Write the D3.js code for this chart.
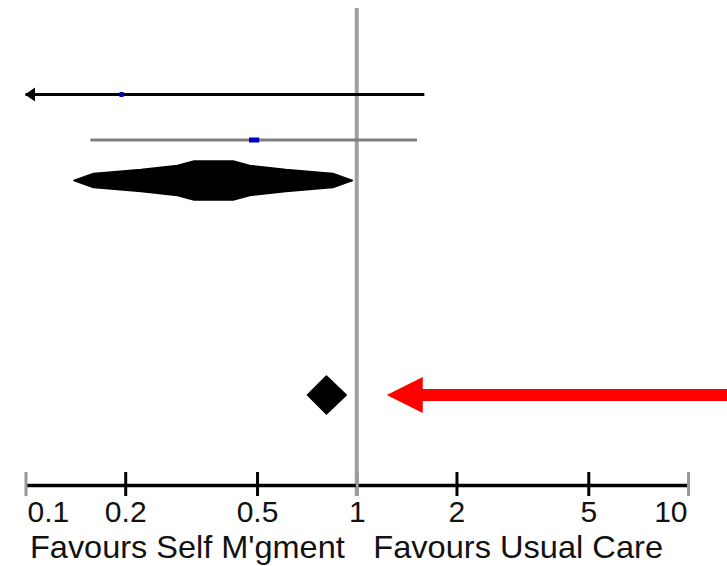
<!DOCTYPE html>
<meta charset="utf-8">
<title>Forest plot</title>
<style>
body {
  margin: 0px;
  background: white;
}
svg {
  display: block;
  background: white;
}
text {
  font-family: "Liberation Sans", Arial, sans-serif;
  fill: #111;
}
</style>
<body>
<div id="chart"></div>
</body>
<script src="https://cdn.jsdelivr.net/npm/d3@7"></script>
<script>

// Individual trials (odds ratio, 95% CI, weight %)
var trialIds = ["Trial 1", "Trial 2"];
var trialEst = [0.195, 0.49];
var trialLow = [0.05, 0.157];
var trialHigh = [1.6, 1.52];
var trialWeight = [14, 86];

// Pooled estimates
var pooledIds = ["Pooled", "Overall"];
var pooledEst = [0.37, 0.81];
var pooledLow = [0.14, 0.71];
var pooledHigh = [0.97, 0.93];

// Axis
var tickValues = [0.1, 0.2, 0.5, 1, 2, 5, 10];
var tickLabels = ["0.1", "0.2", "0.5", "1", "2", "5", "10"];
var favourLabels = ["Favours Self M'gment", "Favours Usual Care"];

var width = 727,
    height = 566;

var svg = d3.select("#chart").append("svg")
    .attr("width", width)
    .attr("height", height);

// Scales
var x = d3.scaleLog()
    .domain([0.1, 10])
    .range([25.5, 688]);

var y = d3.scaleOrdinal()
    .domain(trialIds.concat(pooledIds))
    .range([94.5, 140, 180.5, 395]);

var markerSize = d3.scaleSqrt()
    .domain([0, 100])
    .range([0, 11]);

var lineColours = ["#000", "#808080"];

// Line of no effect
svg.append("line")
    .attr("x1", x(1))
    .attr("x2", x(1))
    .attr("y1", 8)
    .attr("y2", 496)
    .style("stroke", "#a0a0a0")
    .style("stroke-width", 4);

// Trials: CI lines, clipped arrows, weighted boxes
var trials = trialIds.map(function(id, i) {
  return {id: id, est: trialEst[i], low: trialLow[i], high: trialHigh[i], w: trialWeight[i], i: i};
});

var trow = svg.selectAll(".trial")
    .data(trials)
    .enter().append("g")
    .attr("class", "trial");

trow.append("line")
    .attr("x1", function(d){ return x(Math.max(d.low, 0.1)); })
    .attr("x2", function(d){ return x(Math.min(d.high, 10)); })
    .attr("y1", function(d){ return y(d.id); })
    .attr("y2", function(d){ return y(d.id); })
    .style("stroke", function(d){ return lineColours[d.i]; })
    .style("stroke-width", 3);

trow.filter(function(d){ return d.low < 0.1; })
  .append("path")
    .attr("d", function(d) {
      var tx = x(0.1) - 0.5, cy = y(d.id);
      return "M" + tx + "," + cy + "L" + (tx + 10) + "," + (cy - 7) + "L" + (tx + 10) + "," + (cy + 7) + "Z";
    })
    .style("fill", "#000");

trow.append("rect")
    .attr("x", function(d){ return x(d.est) - markerSize(d.w) / 2; })
    .attr("y", function(d){ return y(d.id) - 2.5; })
    .attr("width", function(d){ return markerSize(d.w); })
    .attr("height", 5)
    .style("fill", "#0000c8");

// Pooled diamonds
var pooled = pooledIds.map(function(id, i) {
  return {id: id, est: pooledEst[i], low: pooledLow[i], high: pooledHigh[i], i: i};
});

// bulging outline of the first (subtotal) diamond: [width fraction, height fraction]
var profile = [[1, 0], [0.86, 0.36], [0.52, 0.56], [0.26, 0.77], [0.14, 1]];

var diamond = function(d) {
  var cx = x(d.est), cy = y(d.id),
      wl = cx - x(d.low), wr = x(d.high) - cx;
  if (d.i === 0) {
    var h = 19.5, pts = [];
    profile.forEach(function(p){ pts.push([cx - wl * p[0], cy - h * p[1]]); });
    profile.slice().reverse().forEach(function(p){ pts.push([cx + wr * p[0], cy - h * p[1]]); });
    profile.slice(1).forEach(function(p){ pts.push([cx + wr * p[0], cy + h * p[1]]); });
    profile.slice(1).reverse().forEach(function(p){ pts.push([cx - wl * p[0], cy + h * p[1]]); });
    return "M" + pts.join("L") + "Z";
  }
  var h2 = 19;
  return "M" + [[cx - wl, cy], [cx, cy - h2], [cx + wr, cy], [cx, cy + h2]].join("L") + "Z";
};

svg.selectAll(".pooled")
    .data(pooled)
    .enter().append("path")
    .attr("class", "pooled")
    .attr("d", diamond)
    .style("fill", "#000")
    .style("stroke", "#000")
    .style("stroke-width", 1.5)
    .style("stroke-linejoin", "round");

// Red pointer arrow at the overall estimate
var ay = y("Overall"), tip = x(1) + 30;
svg.append("path")
    .attr("d", "M" + tip + "," + ay +
               "L" + (tip + 36) + "," + (ay - 18) +
               "L" + (tip + 36) + "," + (ay - 6) +
               "L" + width + "," + (ay - 6) +
               "L" + width + "," + (ay + 6) +
               "L" + (tip + 36) + "," + (ay + 6) +
               "L" + (tip + 36) + "," + (ay + 18) + "Z")
    .style("fill", "#ff0000");

// Axis
var axis = d3.axisBottom(x)
    .tickValues(tickValues)
    .tickFormat(function(d, i){ return tickLabels[i]; })
    .tickSizeOuter(0);

var gx = svg.append("g")
    .attr("transform", "translate(0,485)")
    .call(axis);

gx.attr("font-size", null).attr("font-family", null);

gx.select(".domain")
    .style("stroke", "#000")
    .style("stroke-width", 3.5);

gx.selectAll(".tick line")
    .attr("y1", -13)
    .attr("y2", 11)
    .style("stroke", function(d){ return (d === 0.1 || d === 1 || d === 10) ? "#999" : "#000"; })
    .style("stroke-width", 3);

gx.selectAll(".tick text")
    .attr("y", 37)
    .attr("dy", null)
    .style("font-size", "30px")
    .style("fill", "#111")
    .attr("text-anchor", function(d){ return d === 0.1 ? "start" : (d === 10 ? "end" : "middle"); })
    .attr("x", function(d){ return d === 0.1 ? 1.5 : (d === 10 ? -1 : 0); });

// Favours labels
var fx = [x(0.1) + 4.5, x(1) + 16.5],
    fw = [x(1) - 12 - fx[0], x(10) - 25 - fx[1]];

svg.selectAll(".favour")
    .data(favourLabels)
    .enter().append("text")
    .attr("class", "favour")
    .attr("x", function(d, i){ return fx[i]; })
    .attr("y", 558)
    .attr("textLength", function(d, i){ return fw[i]; })
    .attr("lengthAdjust", "spacingAndGlyphs")
    .style("font-size", "32px")
    .text(function(d){ return d; });

</script>
